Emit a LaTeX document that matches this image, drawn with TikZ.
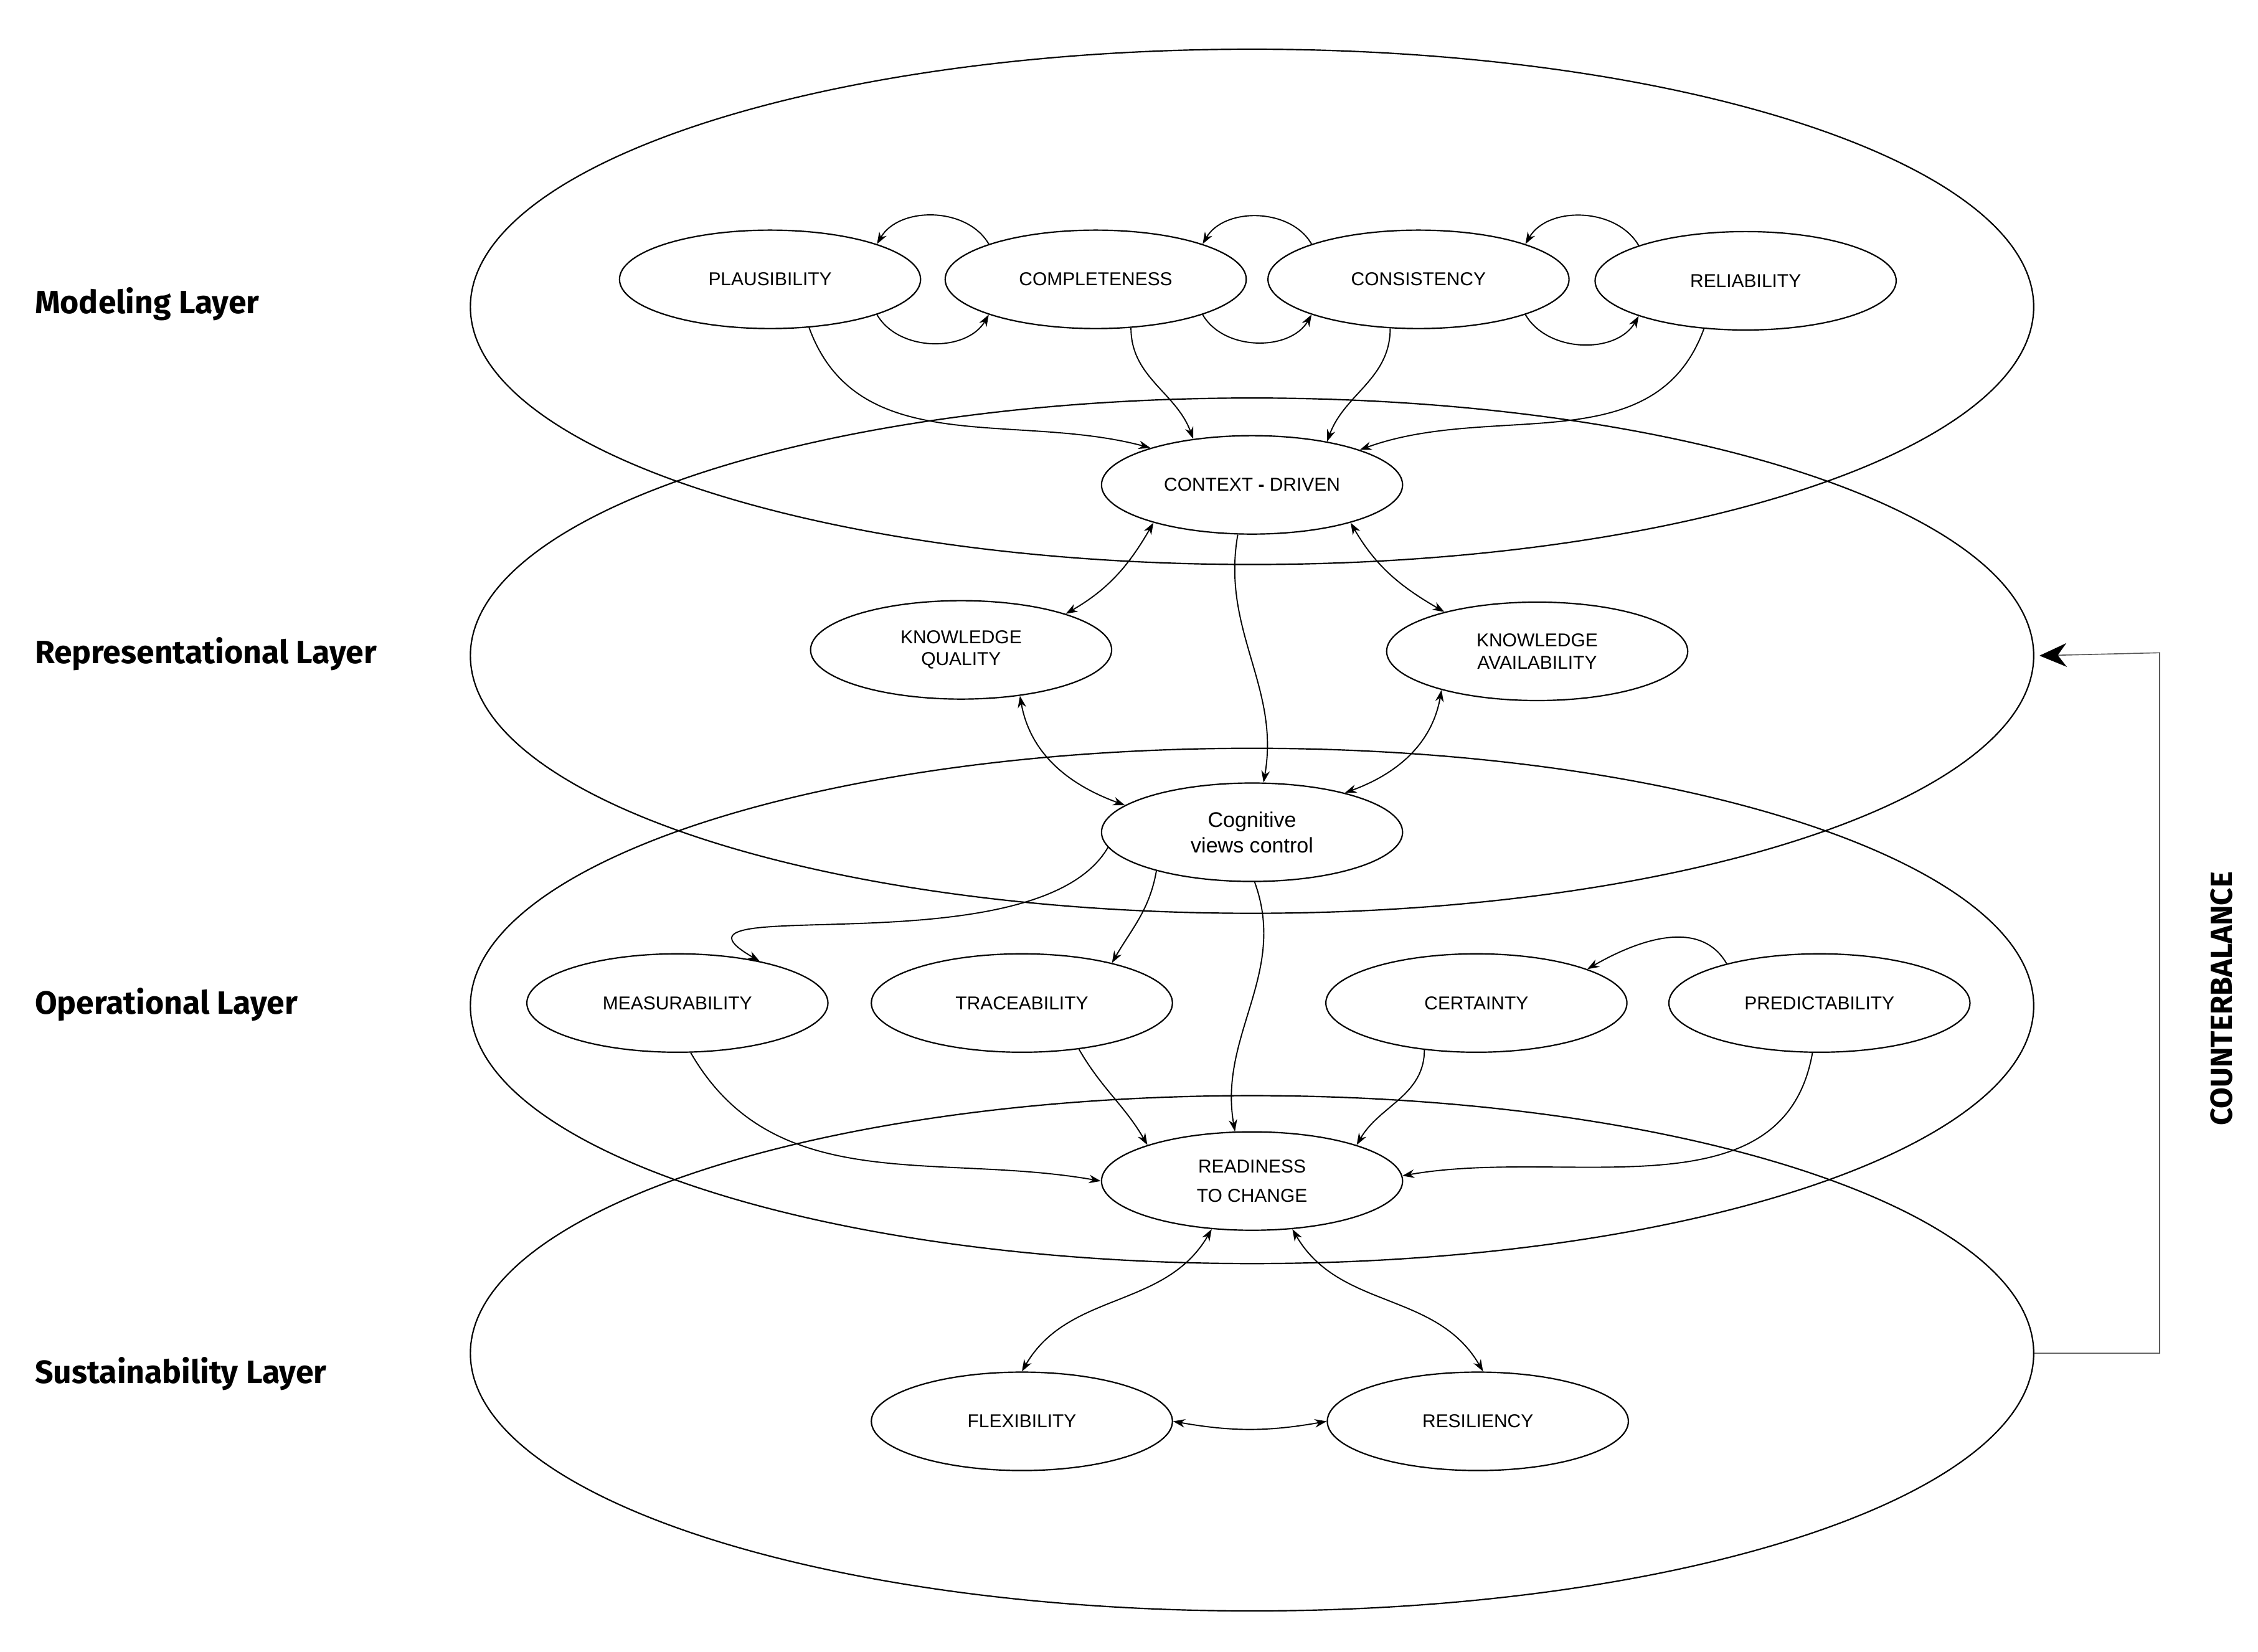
\documentclass[tikz,border=0pt]{standalone}
\usepackage{fontspec}
\setmainfont{Liberation Sans}
\newfontfamily\layerfont{Fira Sans}
\usetikzlibrary{shapes.geometric,arrows.meta}

\begin{document}
\begin{tikzpicture}[x=0.03cm, y=-0.03cm,
	    layer/.style={ellipse, draw, line width=0.8pt, minimum width=32.4cm, minimum height=10.68cm, inner sep=0pt},
	    concept/.style={ellipse, draw, line width=0.8pt, minimum width=6.24cm, minimum height=2.04cm, inner sep=0pt, align=center, font=\fontsize{11}{13}\selectfont},
	    label/.style={anchor=west, font=\layerfont\bfseries\fontsize{19}{22}\selectfont},
	    link/.style={-{Stealth[length=7pt,width=5pt]}, line width=0.7pt},
	    both/.style={{Stealth[length=7pt,width=5pt]}-{Stealth[length=7pt,width=5pt]}, line width=0.7pt}]
	\useasboundingbox (0,0) rectangle (1560,1141);

	% layers
	\node[layer] (model) at (865,212) {};
	\node[layer] (repr) at (865,453) {};
	\node[layer] (oper) at (865,695) {};
	\node[layer] (sust) at (865,935) {};

	\node[label] (lmodel) at (20,210) {Modeling Layer};
	\node[label] (lrepr) at (20,452) {Representational Layer};
	\node[label] (loper) at (20,694) {Operational Layer};
	\node[label] (lsust) at (20,949) {Sustainability Layer};

	% concepts
	\node[concept] (plaus) at (532,193) {PLAUSIBILITY};
	\node[concept] (compl) at (757,193) {COMPLETENESS};
	\node[concept] (consi) at (980,193) {CONSISTENCY};
	\node[concept] (relia) at (1206,194) {RELIABILITY};
	\node[concept] (ctx) at (865,335) {CONTEXT \textbf{-} DRIVEN};
	\node[concept] (kqual) at (664,449) {KNOWLEDGE\\QUALITY};
	\node[concept] (kavail) at (1062,450) {KNOWLEDGE\\AVAILABILITY};
	\node[concept, font=\fontsize{12.5}{15}\selectfont] (cog) at (865,575) {Cognitive\\views control};
	\node[concept] (meas) at (468,693) {MEASURABILITY};
	\node[concept] (trace) at (706,693) {TRACEABILITY};
	\node[concept] (cert) at (1020,693) {CERTAINTY};
	\node[concept] (pred) at (1257,693) {PREDICTABILITY};
	\node[concept, font=\fontsize{11}{17}\selectfont] (ready) at (865,816) {READINESS\\TO CHANGE};
	\node[concept] (flex) at (706,982) {FLEXIBILITY};
	\node[concept] (resil) at (1021,982) {RESILIENCY};

	% modeling loops
	\foreach \a/\b in {plaus/compl, compl/consi, consi/relia}{
		\draw[link] (\b.north west) to[out=120,in=60] (\a.north east);
		\draw[link] (\a.south east) to[out=-60,in=-120] (\b.south west);
	}
	\draw[link] (plaus.-51) to[out=-70,in=165] (ctx.160);
	\draw[link] (compl.-54) to[out=-90,in=110] (ctx.142);
	\draw[link] (consi.-120) to[out=-90,in=70] (ctx.30);
	\draw[link] (relia.-131) to[out=-110,in=20] (ctx.18);

	% representational
	\draw[both] (ctx.-159) to[out=-120,in=30] (kqual.19);
	\draw[both] (ctx.-21) to[out=-60,in=150] (kavail.157);
	\draw[link] (ctx.-106) to[out=-100,in=80] (cog.77);
	\draw[both] (kqual.-38) to[out=-80,in=160] (cog.168);
	\draw[both] (kavail.-158) to[out=-100,in=20] (cog.23);

	% operational
	\draw[link] (cog.-174) to[out=-120,in=150] (meas.27);
	\draw[link] (cog.-158) to[out=-100,in=60] (trace.24);
	\draw[link] (cog.-87) to[out=-70,in=100] (ready.109);
	\draw[link] (pred.157) to[out=120,in=30] (cert.17);
	\draw[link] (meas.-75) to[out=-60,in=170] (ready.180);
	\draw[link] (trace.-39) to[out=-60,in=120] (ready.161);
	\draw[link] (cert.-138) to[out=-90,in=60] (ready.19);
	\draw[link] (pred.-98) to[out=-100,in=10] (ready.2);

	% sustainability
	\draw[both] (ready.-130) to[out=-120,in=60] (flex.90);
	\draw[both] (ready.-50) to[out=-60,in=120] (resil.84);
	\draw[both] (flex.0) to[out=-10,in=190] (resil.180);

	% counterbalance
	\coordinate (cb1) at (1492,935);
	\coordinate (cb2) at (1492,451);
	\draw[line width=0.6pt, gray!70!black, -{Stealth[length=16pt,width=14pt,black]}] (sust.east) -- (cb1) -- (cb2) -- ([xshift=3pt]repr.east);
	\node[rotate=90, font=\layerfont\bfseries\fontsize{18}{20}\selectfont] (cbal) at (1535,690) {COUNTERBALANCE};
\end{tikzpicture}
\end{document}
